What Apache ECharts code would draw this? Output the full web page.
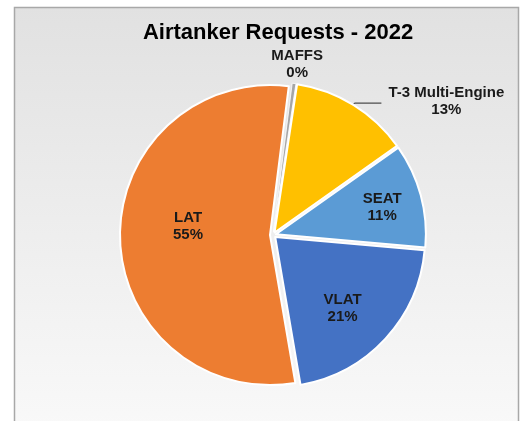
<!DOCTYPE html>
<html>
<head>
<meta charset="utf-8">
<script src="https://cdn.jsdelivr.net/npm/echarts@6/dist/echarts.min.js"></script>
<style>
  html, body { margin: 0; padding: 0; background: #ffffff; }
  #chart { width: 520px; height: 421px; }
</style>
</head>
<body>
<div id="chart"></div>
<script>
// Airtanker request shares by aircraft type, 2022 (percent of all requests)
const categories = ['MAFFS', 'T-3 Multi-Engine', 'SEAT', 'VLAT', 'LAT'];
const shares = [0.4, 12.8, 11.2, 20.9, 54.7];
const sliceColors = ['#A5A5A5', '#FFC000', '#5B9BD5', '#4472C4', '#ED7D31'];
const chartTitle = 'Airtanker Requests - 2022';

// Small nudges for where each label sits relative to its default spot
const labelNudges = {
  0: { dx: -3, dy: -11, align: 'center' },
  1: { dx: 2, dy: -2 },
  2: { dx: 31, dy: -7 },
  3: { dx: 10, dy: 18 },
  4: { dx: -4, dy: -10 }
};
const outsideLabels = { 0: true, 1: true };

const chart = echarts.init(document.getElementById('chart'), null, { renderer: 'canvas' });

const pieData = categories.map((name, i) => {
  const item = {
    name: name,
    value: shares[i],
    selected: true,
    itemStyle: { color: sliceColors[i] }
  };
  if (i === 0) {
    item.itemStyle.borderWidth = 0.8;
  }
  if (outsideLabels[i]) {
    item.label = { position: 'outside' };
    item.labelLine = i === 0
      ? { show: false, length: 8, length2: 0 }
      : { show: true, length: 2, length2: 27, lineStyle: { color: '#262626', width: 1 } };
  }
  return item;
});

chart.setOption({
  animation: false,
  backgroundColor: '#ffffff',
  graphic: [{
    type: 'rect',
    z: -10,
    shape: { x: 14.5, y: 7.5, width: 504, height: 440 },
    style: {
      fill: new echarts.graphic.LinearGradient(0, 0, 0, 1, [
        { offset: 0, color: '#e1e1e1' },
        { offset: 1, color: '#fafafa' }
      ]),
      stroke: '#a8a8a8',
      lineWidth: 1.5
    }
  }],
  title: {
    text: chartTitle,
    left: 273,
    top: 17,
    textAlign: 'center',
    textStyle: {
      fontFamily: 'Liberation Sans, Arial, sans-serif',
      fontWeight: 'bold',
      fontSize: 22,
      color: '#000000'
    }
  },
  series: [{
    type: 'pie',
    center: [273, 235],
    radius: [0, 150],
    startAngle: 82.8,
    clockwise: true,
    selectedMode: 'multiple',
    selectedOffset: 3,
    avoidLabelOverlap: false,
    silent: true,
    itemStyle: { borderColor: '#ffffff', borderWidth: 2 },
    label: {
      show: true,
      position: 'inside',
      fontFamily: 'Liberation Sans, Arial, sans-serif',
      fontWeight: 'bold',
      fontSize: 15,
      color: '#1a1a1a',
      lineHeight: 17,
      formatter: p => '{c|' + p.name + '}\n{c|' + Math.round(p.percent) + '%}',
      rich: {
        c: {
          align: 'center',
          fontFamily: 'Liberation Sans, Arial, sans-serif',
          fontWeight: 'bold',
          fontSize: 15,
          lineHeight: 17,
          color: '#1a1a1a'
        }
      }
    },
    labelLayout: p => labelNudges[p.dataIndex] || {},
    data: pieData
  }]
});
</script>
</body>
</html>
